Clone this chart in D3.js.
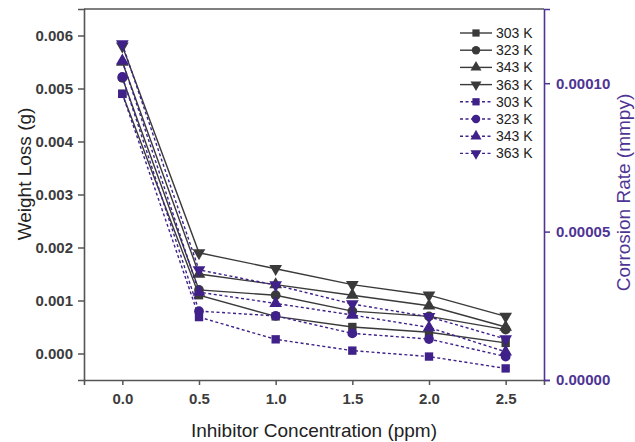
<!DOCTYPE html>
<html>
<head>
<meta charset="utf-8">
<script src="https://cdn.jsdelivr.net/npm/d3@7"></script>
<style>
  body { margin: 0; background: #fff; }
  svg { font-family: "Liberation Sans", Arial, sans-serif; }
</style>
</head>
<body>
<svg id="chart" width="635" height="442"></svg>
<script>
// inhibitor concentration (ppm)
const concentration = [0, 0.5, 1.0, 1.5, 2.0, 2.5];
const temps = ['303 K', '323 K', '343 K', '363 K'];

// weight loss (g), left axis
const wl303 = [0.0049, 0.0011, 0.0007, 0.0005, 0.0004, 0.0002];
const wl323 = [0.0052, 0.0012, 0.0011, 0.0008, 0.0007, 0.00045];
const wl343 = [0.0055, 0.0015, 0.0013, 0.0011, 0.0009, 0.0005];
const wl363 = [0.0058, 0.0019, 0.0016, 0.0013, 0.0011, 0.0007];

// corrosion rate (mmpy), right axis
const cr303 = [0.0000964, 0.0000212, 0.0000137, 0.0000099, 0.0000079, 0.0000039];
const cr323 = [0.0001021, 0.0000232, 0.0000216, 0.0000157, 0.0000138, 0.0000079];
const cr343 = [0.0001075, 0.0000296, 0.0000258, 0.0000219, 0.0000177, 0.0000095];
const cr363 = [0.0001132, 0.0000371, 0.0000320, 0.0000256, 0.0000213, 0.0000138];

const leftTicks = [0, 0.001, 0.002, 0.003, 0.004, 0.005, 0.006];
const rightTicks = [0, 0.00005, 0.0001];
const xTicks = [0, 0.5, 1.0, 1.5, 2.0, 2.5];

const gray = '#3a3a3a';
const purple = '#3f2189';
const axisGray = '#555';
const axisPurple = '#4e3493';

const margin = { top: 9, right: 91, bottom: 62, left: 84 };
const W = 635, H = 442;
const width = W - margin.left - margin.right;   // 460
const height = H - margin.top - margin.bottom;  // 371

const svg = d3.select('#chart');
const g = svg.append('g').attr('transform', `translate(${margin.left},${margin.top})`);

const x = d3.scaleLinear().domain([-0.25, 2.75]).range([0, width]);
const yL = d3.scaleLinear().domain([-0.0005, 0.0065]).range([height, 0]);
const yR = d3.scaleLinear().domain([0, 0.000125]).range([height, 0]);

const shapes = [
  { sym: d3.symbolSquare, size: 70, rot: 0 },
  { sym: d3.symbolCircle, size: 75, rot: 0 },
  { sym: d3.symbolTriangle, size: 70, rot: 0 },
  { sym: d3.symbolTriangle, size: 70, rot: 180 }
];

const solidSeries = [wl303, wl323, wl343, wl363];
const dashSeries = [cr303, cr323, cr343, cr363];

function drawSeries(values, yScale, color, dashed, shape) {
  const pts = concentration.map((c, i) => [c, values[i]]);
  const line = d3.line().x(d => x(d[0])).y(d => yScale(d[1]));
  g.append('path')
   .datum(pts)
   .attr('fill', 'none')
   .attr('stroke', color)
   .attr('stroke-width', 1.4)
   .attr('stroke-dasharray', dashed ? '3,2.5' : null)
   .attr('d', line);
  g.selectAll(null)
   .data(pts)
   .enter().append('path')
   .attr('d', d3.symbol().type(shape.sym).size(shape.size))
   .attr('transform', d => `translate(${x(d[0])},${yScale(d[1])}) rotate(${shape.rot})`)
   .attr('fill', color);
}

solidSeries.forEach((s, i) => drawSeries(s, yL, gray, false, shapes[i]));
dashSeries.forEach((s, i) => drawSeries(s, yR, purple, true, shapes[i]));

// frame top line
g.append('line')
 .attr('x1', 0).attr('x2', width).attr('y1', 0).attr('y2', 0)
 .attr('stroke', axisGray).attr('stroke-width', 1.6);

// axes
const xAxis = g.append('g')
  .attr('transform', `translate(0,${height})`)
  .call(d3.axisBottom(x).tickValues(xTicks).tickFormat(d3.format('.1f')).tickSizeOuter(0).tickSize(5).tickPadding(8));

const leftAxis = g.append('g')
  .call(d3.axisLeft(yL).tickValues(leftTicks).tickFormat(d3.format('.3f')).tickSizeOuter(0).tickSize(6).tickPadding(5));

const rightAxis = g.append('g')
  .attr('transform', `translate(${width},0)`)
  .call(d3.axisRight(yR).tickValues(rightTicks).tickFormat(d3.format('.5f')).tickSizeOuter(0).tickSize(6).tickPadding(6));

[xAxis, leftAxis].forEach(a => {
  a.select('.domain').attr('stroke', axisGray).attr('stroke-width', 1.6);
  a.selectAll('.tick line').attr('stroke', axisGray).attr('stroke-width', 1.5);
  a.selectAll('.tick text')
   .attr('fill', '#3c3c3c').style('font-size', '15px').style('font-weight', 'bold');
});
rightAxis.select('.domain').attr('stroke', axisPurple).attr('stroke-width', 1.6);
rightAxis.selectAll('.tick line').attr('stroke', axisPurple).attr('stroke-width', 1.5);
rightAxis.selectAll('.tick text')
  .attr('fill', axisPurple).style('font-size', '15px').style('font-weight', 'bold');

// axis titles
g.append('text')
 .attr('transform', `translate(${-53},${165}) rotate(-90)`)
 .attr('text-anchor', 'middle')
 .style('font-size', '19px')
 .attr('fill', '#222')
 .text('Weight Loss (g)');

g.append('text')
 .attr('transform', `translate(${width + 86},${height / 2 - 2}) rotate(-90)`)
 .attr('text-anchor', 'middle')
 .style('font-size', '19px')
 .attr('fill', axisPurple)
 .text('Corrosion Rate (mmpy)');

g.append('text')
 .attr('x', x(1.25))
 .attr('y', height + 57)
 .attr('text-anchor', 'middle')
 .style('font-size', '19px')
 .attr('fill', '#222')
 .text('Inhibitor Concentration (ppm)');

// legend
const legend = g.append('g').attr('transform', `translate(${460 - margin.left},${33 - margin.top})`);
const rows = [];
temps.forEach((t, i) => rows.push({ label: t, color: gray, dashed: false, shape: shapes[i] }));
temps.forEach((t, i) => rows.push({ label: t, color: purple, dashed: true, shape: shapes[i] }));
rows.forEach((r, i) => {
  const row = legend.append('g').attr('transform', `translate(0,${i * 17.2})`);
  row.append('line')
     .attr('x1', 0).attr('x2', 32).attr('y1', 0).attr('y2', 0)
     .attr('stroke', r.color).attr('stroke-width', 1.4)
     .attr('stroke-dasharray', r.dashed ? '3,2.5' : null);
  row.append('path')
     .attr('d', d3.symbol().type(r.shape.sym).size(r.shape.size * 0.75))
     .attr('transform', `translate(16,0) rotate(${r.shape.rot})`)
     .attr('fill', r.color);
  row.append('text')
     .attr('x', 36).attr('y', 0).attr('dy', '0.35em')
     .style('font-size', '14px')
     .attr('fill', '#222')
     .text(r.label);
});
</script>
</body>
</html>
